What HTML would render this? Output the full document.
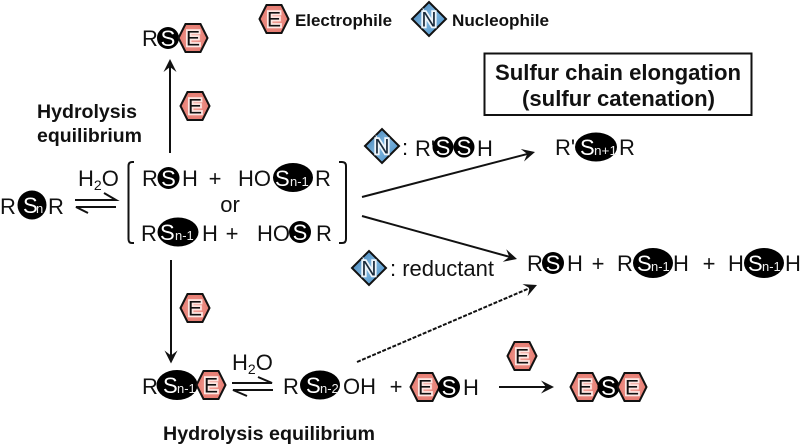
<!DOCTYPE html>
<html><head><meta charset="utf-8"><style>
html,body{margin:0;padding:0;background:#fff}
svg{display:block}
text{font-family:"Liberation Sans",Arial,sans-serif;font-size:22px;fill:#111}
.b{font-weight:bold}
.w{fill:#fff}
.s{font-size:13px;fill:#eee}
.l{font-size:22px;font-weight:bold}
.h{font-size:19px;font-weight:bold}
.g{font-size:17px;font-weight:bold}
.m{text-anchor:middle}
.e{text-anchor:middle;font-size:21px;fill:#111;paint-order:stroke;stroke:#fde6e2;stroke-width:3.5px}
.n{text-anchor:middle;font-size:21px;fill:#1a2a3a;paint-order:stroke;stroke:#eef5fb;stroke-width:3.5px}
.a{stroke:#111;stroke-width:2;fill:none}
</style></head><body>
<svg width="800" height="446" viewBox="0 0 800 446" xmlns="http://www.w3.org/2000/svg">
<defs>
<radialGradient id="hg"><stop offset="0" stop-color="#f3a59c"/><stop offset=".7" stop-color="#e9867c"/><stop offset="1" stop-color="#e57a70"/></radialGradient>
<linearGradient id="dg" x1="0" y1="0" x2="1" y2="1"><stop offset="0" stop-color="#2f74ad"/><stop offset=".5" stop-color="#7fb5de"/><stop offset="1" stop-color="#3b86c2"/></linearGradient>
<polygon id="hex" points="-14.5,0 -7.5,-14 7.5,-14 14.5,0 7.5,14 -7.5,14" fill="url(#hg)" stroke="#111" stroke-width="2"/>
<polygon id="dia" points="-17,0 0,-17 17,0 0,17" fill="url(#dg)" stroke="#111" stroke-width="2"/>
<path id="ah" d="M0,0 L-13,-6.500 L-8,0 L-13,6.500 Z" fill="#111"/>
</defs>

<!-- legend -->
<use href="#hex" x="274" y="19"/><text class="e" x="274" y="26.500">E</text>
<text class="g" x="295" y="26" textLength="97" lengthAdjust="spacingAndGlyphs">Electrophile</text>
<use href="#dia" x="429" y="19"/><text class="n" x="429" y="26.500">N</text>
<text class="g" x="452" y="26" textLength="97" lengthAdjust="spacingAndGlyphs">Nucleophile</text>

<!-- box -->
<rect x="484.500" y="53.500" width="267" height="61.500" fill="#fff" stroke="#111" stroke-width="2"/>
<text class="l" x="495" y="80" textLength="246" lengthAdjust="spacingAndGlyphs">Sulfur chain elongation</text>
<text class="l" x="522" y="106" textLength="193" lengthAdjust="spacingAndGlyphs">(sulfur catenation)</text>

<!-- top RSE -->
<text x="142" y="46">R</text>
<circle cx="168" cy="38" r="11" fill="#000"/><text class="w m" x="168" y="46">S</text>
<use href="#hex" x="193" y="38"/><text class="e" x="193" y="45.500">E</text>

<line class="a" x1="170" y1="153" x2="170" y2="66"/>
<use href="#ah" transform="translate(170,59) rotate(-90)"/>
<use href="#hex" x="195" y="106"/><text class="e" x="195" y="113.500">E</text>

<text class="h" x="37" y="118" textLength="100" lengthAdjust="spacingAndGlyphs">Hydrolysis</text>
<text class="h" x="37" y="142" textLength="105" lengthAdjust="spacingAndGlyphs">equilibrium</text>

<!-- left RSnR -->
<text x="0" y="214">R</text>
<circle cx="32" cy="205" r="14.500" fill="#000"/><text class="w" x="23" y="213">S</text><text class="s" x="36" y="213">n</text>
<text x="48" y="214">R</text>
<text x="78" y="186">H<tspan font-size="14" dy="4">2</tspan><tspan dy="-4">O</tspan></text>
<path class="a" d="M75,200 H116 L104,193"/>
<path class="a" d="M116,207 H76 L88,213"/>

<!-- brackets -->
<path class="a" d="M134,162 H132 Q128.500,162 128.500,166 V239 Q128.500,243 132,243 H134"/>
<path class="a" d="M339,162 H342 Q346,162 346,166 V239 Q346,243 342,243 H339"/>

<!-- row 1 -->
<text x="142" y="186">R</text>
<circle cx="168.500" cy="178" r="11" fill="#000"/><text class="w m" x="168.500" y="186">S</text>
<text x="182" y="186">H</text>
<text class="m" x="215" y="186">+</text>
<text x="238" y="186">HO</text>
<ellipse cx="293" cy="177.500" rx="20" ry="14.500" fill="#000"/><text class="w" x="275" y="186">S</text><text class="s" x="290" y="186">n-1</text>
<text x="315" y="186">R</text>
<text class="m" x="230" y="212">or</text>

<!-- row 2 -->
<text x="141" y="241">R</text>
<ellipse cx="178" cy="232" rx="20.500" ry="14.500" fill="#000"/><text class="w" x="160" y="240">S</text><text class="s" x="175" y="240">n-1</text>
<text x="202" y="241">H</text>
<text class="m" x="232" y="241">+</text>
<text x="257" y="241">HO</text>
<circle cx="300" cy="232" r="11" fill="#000"/><text class="w m" x="300" y="240">S</text>
<text x="316" y="241">R</text>

<!-- down arrow -->
<line class="a" x1="171" y1="260" x2="171" y2="357"/>
<use href="#ah" transform="translate(171,363.500) rotate(90)"/>
<use href="#hex" x="195" y="308"/><text class="e" x="195" y="315.500">E</text>

<!-- bottom row -->
<text x="142" y="394">R</text>
<ellipse cx="177" cy="385" rx="20.500" ry="15" fill="#000"/><text class="w" x="163" y="393">S</text><text class="s" x="177" y="393">n-1</text>
<use href="#hex" x="211" y="385"/><text class="e" x="211" y="392.500">E</text>
<text x="232" y="370">H<tspan font-size="14" dy="4">2</tspan><tspan dy="-4">O</tspan></text>
<path class="a" d="M232,383 H272 L258,377"/>
<path class="a" d="M273,390 H233 L247,396"/>
<text x="283" y="394">R</text>
<ellipse cx="320" cy="385" rx="20" ry="14.500" fill="#000"/><text class="w" x="306" y="393">S</text><text class="s" x="320" y="393">n-2</text>
<text x="343" y="394">OH</text>
<text class="m" x="396" y="394">+</text>
<use href="#hex" x="425" y="387"/><text class="e" x="425" y="394.500">E</text>
<circle cx="449" cy="387" r="11" fill="#000"/><text class="w m" x="449" y="395">S</text>
<text x="463" y="395">H</text>
<use href="#hex" x="522" y="356"/><text class="e" x="522" y="363.500">E</text>
<line class="a" x1="499" y1="387" x2="548" y2="387"/>
<use href="#ah" transform="translate(554,387)"/>
<use href="#hex" x="585" y="387"/><text class="e" x="585" y="394.500">E</text>
<circle cx="608.500" cy="387" r="11" fill="#000"/><text class="w m" x="608.500" y="395">S</text>
<use href="#hex" x="632" y="387"/><text class="e" x="632" y="394.500">E</text>

<text class="h" x="163" y="440" textLength="212" lengthAdjust="spacingAndGlyphs">Hydrolysis equilibrium</text>

<!-- diagonal arrows -->
<line class="a" x1="362" y1="197" x2="528" y2="153.800"/>
<use href="#ah" transform="translate(535,152) rotate(-14.500)"/>
<line class="a" x1="362" y1="216" x2="510" y2="257"/>
<use href="#ah" transform="translate(517,259) rotate(15.500)"/>
<line class="a" x1="357" y1="362" x2="531" y2="287.500" stroke-dasharray="4 1.500"/>
<use href="#ah" transform="translate(537,285) rotate(-23)"/>

<!-- N R'SSH -->
<use href="#dia" x="382" y="146"/><text class="n" x="382" y="153.500">N</text>
<text x="402" y="155">:</text>
<text x="415" y="156">R'</text>
<circle cx="443" cy="147" r="10.500" fill="#000"/><text class="w m" x="443" y="155">S</text>
<circle cx="464" cy="147" r="10.500" fill="#000"/><text class="w m" x="464" y="155">S</text>
<text x="477" y="156">H</text>

<!-- R'Sn+1R -->
<text x="555" y="155">R'</text>
<ellipse cx="596" cy="147" rx="21" ry="14.500" fill="#000"/><text class="w" x="580" y="155">S</text><text class="s" x="594" y="155" textLength="23" lengthAdjust="spacingAndGlyphs">n+1</text>
<text x="619" y="155">R</text>

<!-- N reductant -->
<use href="#dia" x="369" y="268"/><text class="n" x="369" y="275.500">N</text>
<text x="390" y="276" textLength="104" lengthAdjust="spacingAndGlyphs">: reductant</text>

<!-- products -->
<text x="527" y="271">R</text>
<circle cx="553" cy="263" r="11" fill="#000"/><text class="w m" x="553" y="271">S</text>
<text x="567" y="271">H</text>
<text class="m" x="598" y="271">+</text>
<text x="617" y="271">R</text>
<ellipse cx="653" cy="263" rx="20" ry="15" fill="#000"/><text class="w" x="637" y="271">S</text><text class="s" x="651" y="271">n-1</text>
<text x="673" y="271">H</text>
<text class="m" x="709" y="271">+</text>
<text x="728" y="271">H</text>
<ellipse cx="764" cy="263" rx="20" ry="15" fill="#000"/><text class="w" x="748" y="271">S</text><text class="s" x="762" y="271">n-1</text>
<text x="785" y="271">H</text>
</svg>
</body></html>
